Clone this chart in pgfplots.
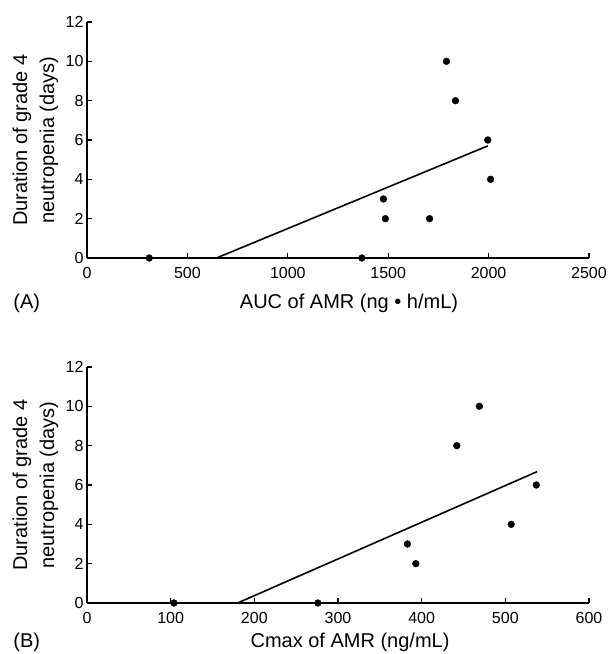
\documentclass[border=0pt]{standalone}
\usepackage{fontspec}
\setmainfont{Liberation Sans}
\usepackage{pgfplots}
\pgfplotsset{compat=1.18}

\pgfplotsset{
  panel/.style={
    scale only axis,
    width=502pt,
    height=236pt,
    axis x line*=bottom,
    axis y line*=left,
    axis line style={line width=1.3pt},
    tick style={line width=1.1pt, black},
    major tick length=5pt,
    ymin=0, ymax=12,
    ytick={0,2,...,12},
    tick label style={font=\fontsize{16}{16}\selectfont},
    x tick label style={yshift=-6pt},
    label style={font=\fontsize{20}{27}\selectfont},
    /pgf/number format/assume math mode=true,
    /pgf/number format/1000 sep={},
    scaled x ticks=false,
    ylabel={Duration of grade 4\\neutropenia (days)},
    ylabel style={align=center, at={(axis description cs:-0.05,0.5)}, anchor=south},
    clip=false,
  },
  pts/.style={only marks, mark=*, mark size=3.4pt, black},
  fit/.style={no marks, black, line width=1.6pt},
}

\begin{document}
\begin{tikzpicture}

% panel A
\begin{axis}[panel,
  at={(0,345pt)},
  xmin=0, xmax=2500,
  xtick={0,500,...,2500},
  xlabel={AUC of AMR (ng • h/mL)},
  xlabel style={at={(axis description cs:0.522,-0.19)}, anchor=center},
]
\addplot[pts] coordinates {
(310,0)(1369,0)(1476,3)(1486,2)(1706,2)
(1790,10)(1835,8)(1996,6)(2010,4)};
\addplot[fit] coordinates {(645,0)(1996,5.7)};
\node[font=\fontsize{20}{20}\selectfont] at (axis description cs:-0.12,-0.19) {(A)};
\end{axis}

% panel B
\begin{axis}[panel,
  at={(0,0)},
  xmin=0, xmax=600,
  xtick={0,100,...,600},
  xlabel={Cmax of AMR (ng/mL)},
  xlabel style={at={(axis description cs:0.524,-0.166)}, anchor=center},
]
\addplot[pts] coordinates {
(104,0)(276,0)(383,3)(393,2)(442,8)
(469,10)(507,4)(537,6)};
\addplot[fit] coordinates {(180,0)(538,6.68)};
\node[font=\fontsize{20}{20}\selectfont] at (axis description cs:-0.12,-0.166) {(B)};
\end{axis}

\pgfresetboundingbox
\path (-87pt,-51pt) rectangle (529pt,603pt);
\end{tikzpicture}
\end{document}
